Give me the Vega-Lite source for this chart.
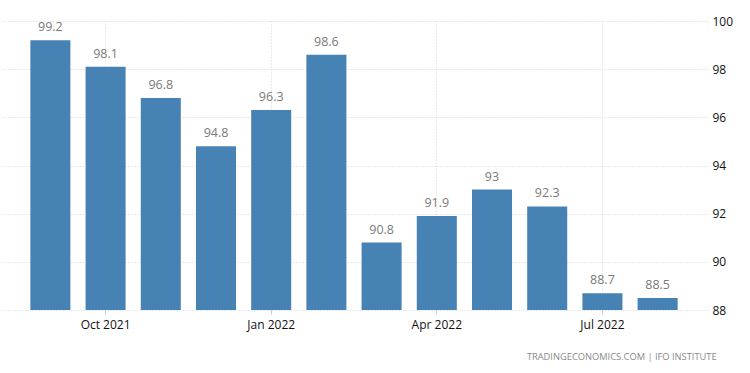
{
  "$schema": "https://vega.github.io/schema/vega-lite/v6.json",
  "width": 708,
  "height": 289,
  "autosize": "none",
  "padding": {"left": 0, "top": 21, "right": 42, "bottom": 63},
  "background": "white",
  "config": {
    "view": {"stroke": null},
    "font": "Open Sans"
  },
  "title": {
    "text": "TRADINGECONOMICS.COM | IFO INSTITUTE",
    "orient": "bottom",
    "anchor": "end",
    "dx": -16,
    "offset": 23,
    "fontSize": 9.3,
    "fontWeight": "normal",
    "color": "#8a8a8a",
    "font": "Open Sans"
  },
  "data": {
    "values": [
      {"month": "Sep 2021", "value": 99.2},
      {"month": "Oct 2021", "value": 98.1},
      {"month": "Nov 2021", "value": 96.8},
      {"month": "Dec 2021", "value": 94.8},
      {"month": "Jan 2022", "value": 96.3},
      {"month": "Feb 2022", "value": 98.6},
      {"month": "Mar 2022", "value": 90.8},
      {"month": "Apr 2022", "value": 91.9},
      {"month": "May 2022", "value": 93},
      {"month": "Jun 2022", "value": 92.3},
      {"month": "Jul 2022", "value": 88.7},
      {"month": "Aug 2022", "value": 88.5}
    ]
  },
  "encoding": {
    "x": {
      "field": "month",
      "type": "ordinal",
      "sort": null,
      "scale": {"paddingInner": 0.275, "paddingOuter": 0.55},
      "axis": {
        "title": null,
        "values": ["Oct 2021", "Jan 2022", "Apr 2022", "Jul 2022"],
        "labelAngle": 0,
        "labelFontSize": 12,
        "labelColor": "#111111",
        "labelPadding": 5,
        "domain": false,
        "ticks": true,
        "tickSize": 4,
        "tickColor": "#cccccc",
        "grid": true,
        "gridColor": "#d4d4d4",
        "gridDash": [1, 2],
        "bandPosition": 0.5
      }
    },
    "y": {
      "field": "value",
      "type": "quantitative",
      "scale": {"domain": [88, 100], "zero": false, "nice": false},
      "axis": {
        "orient": "right",
        "title": null,
        "values": [88, 90, 92, 94, 96, 98, 100],
        "labelFontSize": 12,
        "labelColor": "#111111",
        "labelPadding": 4,
        "domain": false,
        "ticks": false,
        "grid": true,
        "gridColor": "#d4d4d4",
        "gridDash": [1, 2]
      }
    }
  },
  "layer": [
    {
      "mark": {"type": "bar", "color": "#4682b4"},
      "encoding": {"y2": {"datum": 88}}
    },
    {
      "mark": {"type": "text", "baseline": "bottom", "dy": -6, "fontSize": 12.5, "color": "#7a7a7a"},
      "encoding": {"text": {"field": "value", "type": "quantitative"}}
    }
  ]
}
